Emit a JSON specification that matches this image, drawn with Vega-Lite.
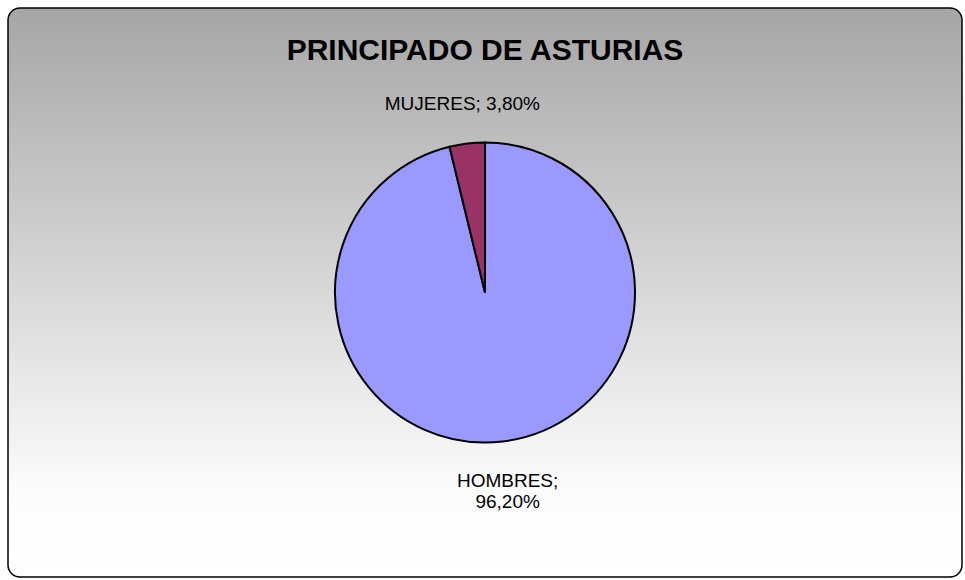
{
  "$schema": "https://vega.github.io/schema/vega-lite/v6.json",
  "width": 965,
  "height": 580,
  "autosize": {"type": "fit", "contains": "padding"},
  "padding": {"left": 8, "top": 8, "right": 3, "bottom": 3},
  "background": "white",
  "config": {"font": "Liberation Sans"},
  "view": {
    "stroke": "black",
    "strokeWidth": 1.5,
    "cornerRadius": 12,
    "fill": {
      "gradient": "linear",
      "x1": 0, "y1": 0, "x2": 0, "y2": 1,
      "stops": [
        {"offset": 0, "color": "#a6a6a6"},
        {"offset": 0.85, "color": "#fcfcfc"},
        {"offset": 1, "color": "#ffffff"}
      ]
    }
  },
  "title": {
    "text": "PRINCIPADO DE ASTURIAS",
    "font": "Liberation Sans",
    "fontSize": 30,
    "fontWeight": "bold",
    "color": "black",
    "anchor": "middle",
    "offset": -58
  },
  "data": {
    "values": [
      {"sexo": "HOMBRES", "porcentaje": 96.2, "orden": 1, "etiqueta": "HOMBRES;\n96,20%"},
      {"sexo": "MUJERES", "porcentaje": 3.8, "orden": 2, "etiqueta": "MUJERES; 3,80%"}
    ]
  },
  "encoding": {
    "theta": {"field": "porcentaje", "type": "quantitative", "stack": true},
    "order": {"field": "orden", "type": "quantitative"}
  },
  "layer": [
    {
      "mark": {"type": "arc", "outerRadius": 150, "stroke": "black", "strokeWidth": 2},
      "encoding": {
        "color": {
          "field": "sexo",
          "type": "nominal",
          "scale": {"domain": ["HOMBRES", "MUJERES"], "range": ["#9999ff", "#993366"]},
          "legend": null
        }
      }
    },
    {
      "mark": {"type": "text", "radius": 190, "fontSize": 19, "lineBreak": "\n", "color": "black", "font": "Liberation Sans"},
      "encoding": {
        "text": {"field": "etiqueta", "type": "nominal"}
      }
    }
  ]
}
